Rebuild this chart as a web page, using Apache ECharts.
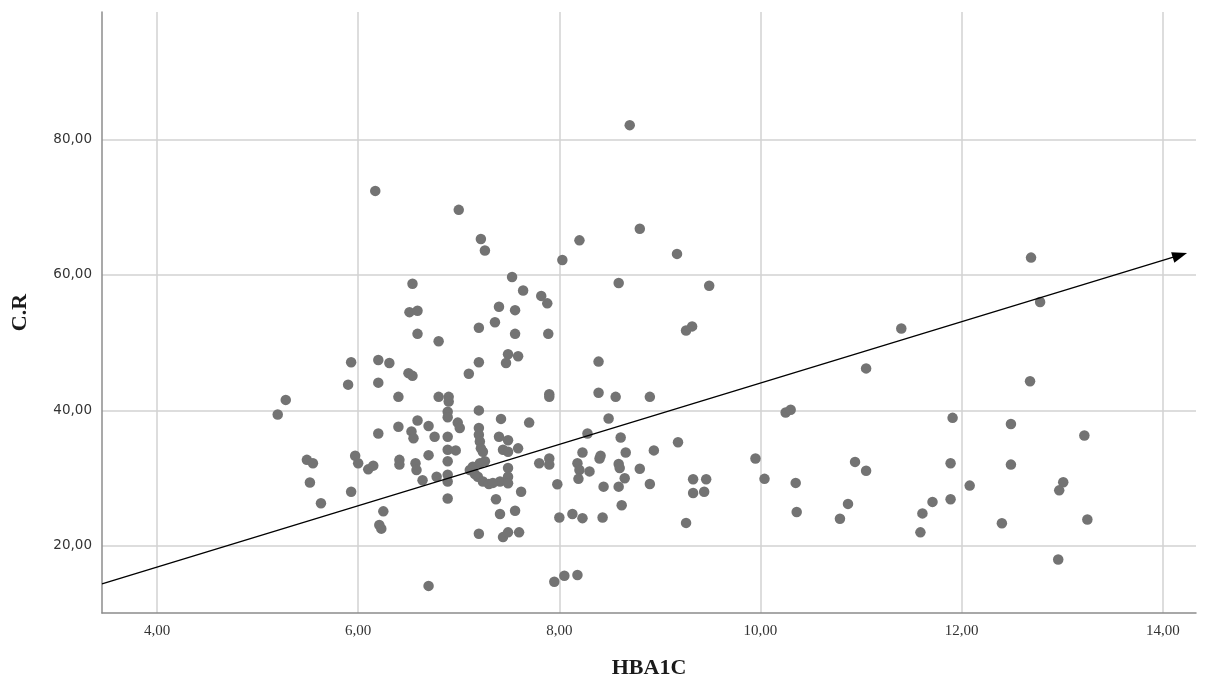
<!DOCTYPE html>
<html>
<head>
<meta charset="utf-8">
<script src="https://cdn.jsdelivr.net/npm/echarts@6/dist/echarts.min.js"></script>
<style>
  html, body { margin: 0; padding: 0; background: #fff; }
  #chart { width: 1209px; height: 680px; }
</style>
</head>
<body>
<div id="chart"></div>
<script>
// HBA1C (x) and C.R (y)
const hba1c = [
  6.17, 5.93, 6.20, 6.31, 5.90, 6.20, 5.28, 5.20, 6.20, 5.49, 5.55, 5.97, 6.00, 6.10, 6.15, 5.52, 5.93, 5.63, 6.25, 6.21, 6.23,
  7.00, 7.22, 7.26, 8.03, 6.54, 7.53, 7.64, 7.82, 7.88, 6.51, 6.59, 7.40, 7.56, 7.36, 7.20, 6.59, 6.80, 7.56, 7.89, 7.49, 7.59, 7.47, 7.20, 6.50, 6.54, 7.10,
  6.40, 6.80, 6.90, 6.90, 7.90, 7.90, 7.20, 6.89, 6.89, 7.42, 7.70, 6.59, 6.40, 6.70, 6.99, 7.01, 6.53, 6.55, 6.76, 6.89,
  7.20, 7.20, 7.21, 7.22, 7.24, 7.40, 7.49, 7.59, 7.44, 7.49, 6.89, 6.97, 6.70, 6.41, 6.41, 6.57, 6.58, 6.64, 6.78, 6.89,
  6.89, 6.89, 7.11, 7.14, 7.21, 7.26, 7.19, 7.24, 7.30, 7.41, 7.49, 7.49, 7.49, 7.80, 7.90, 7.90, 7.98, 7.62, 6.89, 7.37,
  7.41, 7.56, 8.00, 7.20, 7.44, 7.49, 7.60, 6.70, 7.95, 8.05, 7.16, 7.34,
  8.70, 8.80, 8.20, 9.17, 8.59, 9.49, 9.32, 9.26, 8.39,
  8.39, 8.56, 8.90, 8.49, 8.28, 8.61, 9.18, 8.23, 8.40, 8.41, 8.66, 8.94, 8.18, 8.20, 8.30, 8.59, 8.60, 8.80, 8.19, 8.65,
  8.44, 8.59, 8.90, 9.33, 9.46, 9.33, 9.44, 8.62, 8.13, 8.23, 8.43, 9.26, 8.18,
  11.40, 11.05, 10.25, 10.30, 11.91, 9.95, 10.04, 10.35, 10.94, 11.05, 11.89, 12.08, 10.36, 10.87, 10.79, 11.89, 11.71, 11.61, 11.59,
  12.69, 12.78, 12.68, 12.49, 13.22, 12.49, 13.01, 12.97, 12.40, 13.25, 12.96
];
const cr = [
  72.4, 47.1, 47.45, 47.0, 43.8, 44.1, 41.55, 39.4, 36.6, 32.7, 32.2, 33.3, 32.2, 31.3, 31.85, 29.35, 28.0, 26.3, 25.1, 23.1, 22.55,
  69.6, 65.3, 63.6, 62.2, 58.7, 59.7, 57.7, 56.9, 55.8, 54.5, 54.7, 55.3, 54.8, 53.0, 52.2, 51.3, 50.2, 51.3, 51.3, 48.3, 48.0, 47.0, 47.1, 45.5, 45.1, 45.4,
  42.0, 42.0, 42.0, 41.3, 42.4, 42.0, 40.0, 39.8, 39.0, 38.75, 38.2, 38.5, 37.6, 37.7, 38.2, 37.4, 36.9, 35.9, 36.1, 36.1,
  37.4, 36.4, 35.4, 34.4, 33.9, 36.1, 35.6, 34.4, 34.2, 33.9, 34.2, 34.1, 33.4, 32.7, 32.0, 32.2, 31.2, 29.7, 30.2, 32.5,
  30.5, 29.5, 31.2, 31.7, 32.2, 32.5, 30.2, 29.5, 29.15, 29.5, 31.5, 30.2, 29.25, 32.2, 32.9, 32.0, 29.1, 28.0, 27.0, 26.9,
  24.7, 25.2, 24.2, 21.8, 21.3, 22.0, 22.0, 14.1, 14.7, 15.6, 30.6, 29.3,
  82.1, 66.8, 65.1, 63.1, 58.8, 58.4, 52.4, 51.8, 47.2,
  42.6, 42.0, 42.0, 38.8, 36.6, 36.0, 35.3, 33.8, 32.9, 33.3, 33.8, 34.1, 32.2, 31.2, 31.0, 32.1, 31.5, 31.4, 29.9, 30.0,
  28.75, 28.75, 29.15, 29.85, 29.85, 27.8, 28.0, 26.0, 24.7, 24.1, 24.2, 23.4, 15.7,
  52.1, 46.2, 39.7, 40.1, 38.9, 32.9, 29.9, 29.3, 32.4, 31.1, 32.2, 28.9, 25.0, 26.2, 24.0, 26.9, 26.5, 24.8, 22.0,
  62.55, 56.0, 44.3, 38.0, 36.3, 32.0, 29.4, 28.2, 23.35, 23.9, 18.0
];
const xTicks = [4, 6, 8, 10, 12, 14];
const yTicks = [20, 40, 60, 80];
// hand-drawn trend arrow, start and end
const arrowX = [3.453, 14.17];
const arrowY = [14.4, 62.9];

const fmt = v => v.toFixed(2).replace('.', ',');

const chart = echarts.init(document.getElementById('chart'));
chart.setOption({
  animation: false,
  backgroundColor: '#fff',
  grid: { left: 102, right: 13, top: 12, bottom: 67, outerBoundsMode: 'none' },
  xAxis: {
    type: 'value',
    min: 3.453,
    max: 14.33,
    name: 'HBA1C',
    nameLocation: 'middle',
    nameGap: 44,
    nameTextStyle: { fontFamily: 'Liberation Serif', fontSize: 22, fontWeight: 'bold', color: '#1a1a1a' },
    axisLine: { show: true, onZero: false, lineStyle: { color: '#8c8c8c', width: 1.5 } },
    axisTick: { show: false, customValues: xTicks },
    axisLabel: { customValues: xTicks, formatter: fmt, margin: 11, fontFamily: 'Liberation Serif', fontSize: 15, color: '#333' },
    splitLine: { show: true, lineStyle: { color: '#d2d2d2', width: 1.5 } }
  },
  yAxis: {
    type: 'value',
    min: 10.1,
    max: 98.8,
    name: 'C.R',
    nameLocation: 'middle',
    nameGap: 71,
    nameTextStyle: { fontFamily: 'Liberation Serif', fontSize: 22, fontWeight: 'bold', color: '#1a1a1a' },
    axisLine: { show: true, onZero: false, lineStyle: { color: '#8c8c8c', width: 1.5 } },
    axisTick: { show: false, customValues: yTicks },
    axisLabel: { customValues: yTicks, formatter: fmt, margin: 10, fontFamily: 'DejaVu Sans', fontSize: 13.5, color: '#333' },
    splitLine: { show: true, lineStyle: { color: '#d2d2d2', width: 1.5 } }
  },
  series: [
    {
      type: 'scatter',
      data: hba1c.map((x, i) => [x, cr[i]]),
      symbolSize: 10.5,
      itemStyle: { color: '#737373', opacity: 1 },
      emphasis: { disabled: true },
      z: 2
    },
    {
      type: 'line',
      data: [],
      z: 5,
      markLine: {
        silent: true,
        animation: false,
        symbol: ['none', 'triangle'],
        symbolSize: [11, 15],
        label: { show: false },
        lineStyle: { color: '#000', width: 1.3, type: 'solid' },
        data: [[{ coord: [arrowX[0], arrowY[0]] }, { coord: [arrowX[1], arrowY[1]] }]]
      }
    }
  ]
});
</script>
</body>
</html>
